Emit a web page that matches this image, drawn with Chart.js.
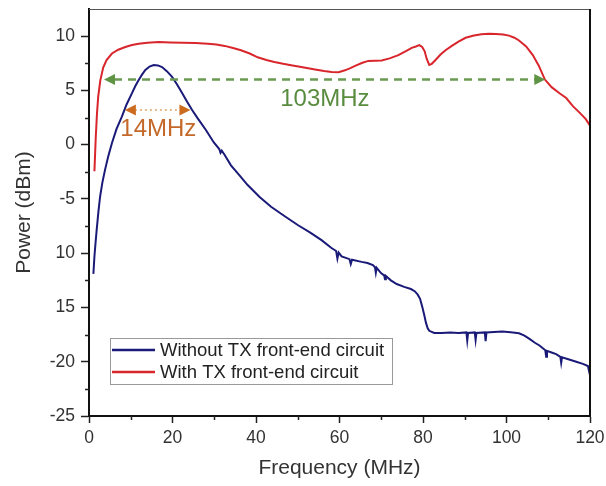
<!DOCTYPE html>
<html>
<head>
<meta charset="utf-8">
<script src="https://cdn.jsdelivr.net/npm/chart.js@4/dist/chart.umd.min.js"></script>
<style>
  html, body { margin: 0; padding: 0; background: #fff; }
</style>
</head>
<body>
<canvas id="powerChart" width="606" height="486"></canvas>
<script>
// With TX front-end circuit (red)
const redFreq = [1.3, 1.6, 1.9, 2.2, 2.7, 3.4, 4.2, 5.5, 7.0, 8.7, 10.3, 11.9, 14.0, 16.7, 19.5, 22.5, 25.5, 28.5, 30.5, 32.5,
  34.5, 36.4, 38.5, 40.4, 42.5, 44.4, 46.5, 48.4, 50.5, 52.5, 54.5, 56.3, 58.1, 59.8, 61.3, 62.6, 64.0, 65.5, 66.9, 68.5,
  70.1, 72.0, 74.1, 75.8, 77.3, 78.3, 79.1, 79.8, 80.4, 80.9, 81.5, 82.1, 83.0, 84.2, 85.4, 86.9, 88.5, 90.2, 92.2, 94.0,
  95.8, 97.5, 99.2, 100.6, 101.9, 103.0, 104.7, 106.3, 107.7, 109.2, 110.8, 112.7, 114.3, 115.9, 117.5, 119.0, 120.0];
const redPower = [-2.45, 0.5, 2.8, 4.4, 5.9, 7.1, 7.8, 8.4, 8.75, 9.0, 9.18, 9.3, 9.4, 9.45, 9.42, 9.38, 9.36, 9.3, 9.22, 9.1,
  8.9, 8.7, 8.4, 8.05, 7.8, 7.62, 7.45, 7.32, 7.18, 7.04, 6.9, 6.78, 6.7, 6.68, 6.85, 7.05, 7.3, 7.55, 7.72, 7.74,
  7.75, 7.95, 8.25, 8.6, 8.92, 9.05, 9.17, 9.0, 8.6, 7.9, 7.35, 7.45, 7.8, 8.3, 8.7, 9.1, 9.5, 9.85, 10.05, 10.18,
  10.22, 10.2, 10.15, 10.05, 9.85, 9.6, 9.05, 8.25, 7.3, 6.0, 5.3, 4.74, 4.3, 3.55, 2.95, 2.35, 1.75];

// Without TX front-end circuit (blue)
const blueFreq = [1.05, 1.3, 1.6, 1.85, 2.25, 2.65, 3.2, 3.85, 4.6, 5.5, 6.6, 7.9, 9.0, 10.3, 11.1, 11.9, 12.7, 13.5, 14.5, 15.5,
  16.5, 17.5, 18.7, 19.9, 21.1, 22.3, 23.5, 24.7, 26.0, 28.0, 29.9, 31.2, 31.5, 31.8, 32.5, 34.0, 36.0, 38.0, 40.8, 43.6,
  46.8, 50.0, 53.0, 55.7, 58.0, 59.2, 59.5, 59.8, 60.5, 62.4, 62.7, 63.0, 65.3, 66.7, 68.0, 68.5, 68.7,
  68.9, 70.0, 70.7, 70.9, 71.1, 72.3, 73.7, 75.5, 77.1, 78.0, 78.7, 79.3, 79.8, 80.3, 80.7, 81.1, 81.5, 82.7, 84.5, 86.5,
  88.5, 90.4, 90.6, 90.8, 92.4, 92.6, 92.8, 94.8, 95.0, 95.2, 97.0, 99.0, 101.0, 103.0, 104.3, 105.5, 106.8, 107.9, 109.3, 109.5,
  109.7, 110.8, 111.9, 112.9, 113.1, 113.3, 115.0, 116.7, 118.3, 119.5, 119.8, 120.0];
const bluePower = [-11.9, -10.3, -8.9, -7.8, -6.2, -4.8, -3.5, -2.3, -1.1, 0.15, 1.45, 2.6, 3.7, 4.75, 5.4, 5.95, 6.45, 6.88, 7.2, 7.34,
  7.3, 7.15, 6.75, 6.25, 5.55, 4.75, 3.95, 3.2, 2.45, 1.35, 0.2, -0.4, -0.75, -0.55, -0.95, -1.9, -2.8, -3.72, -4.8, -5.72,
  -6.57, -7.4, -8.1, -8.8, -9.5, -9.8, -10.5, -9.95, -10.3, -10.55, -11.0, -10.6, -10.8, -10.9, -11.1, -11.3, -11.8,
  -11.35, -11.85, -12.05, -12.4, -12.1, -12.5, -12.84, -13.1, -13.3, -13.5, -13.8, -14.2, -14.9, -15.7, -16.4, -16.9, -17.15, -17.35, -17.35, -17.3,
  -17.35, -17.3, -18.05, -17.35, -17.3, -18.0, -17.35, -17.3, -18.1, -17.3, -17.25, -17.22, -17.28, -17.38, -17.6, -17.9, -18.25, -18.5, -18.95, -19.55,
  -19.0, -19.15, -19.3, -19.55, -20.1, -19.6, -19.8, -20.0, -20.2, -20.4, -20.9, -20.7];

const seriesNames = ['Without TX front-end circuit', 'With TX front-end circuit'];
const seriesColors = ['#1a1a78', '#d8262c'];

const xTicks = [0, 20, 40, 60, 80, 100, 120];
const xMinorTicks = [10, 30, 50, 70, 90, 110];
const yTicks = [-25, -20, -15, -10, -5, 0, 5, 10];
const yTickLabels = ['-25', '-20', '15', '10', '-5', '0', '5', '10'];
const yMinorTicks = [-22.5, -17.5, -12.5, -7.5, -2.5, 2.5, 7.5];

// bandwidth markers: [from, to, level] and label [text, x, y]
const wideBand = [3.6, 109.3, 6.0];
const wideLabel = ['103MHz', 56.5, 4.2];
const narrowBand = [8.6, 24.3, 3.2];
const narrowLabel = ['14MHz', 16.6, 1.45];

const FONT = "'Liberation Sans', Arial, sans-serif";

function toPoints(xs, ys) {
    return xs.map((x, i) => ({ x, y: ys[i] }));
}

function arrowHead(ctx, x, y, dir, color) {
    ctx.fillStyle = color;
    ctx.beginPath();
    ctx.moveTo(x, y);
    ctx.lineTo(x - dir * 11, y - 5.5);
    ctx.lineTo(x - dir * 11, y + 5.5);
    ctx.closePath();
    ctx.fill();
}

const extrasPlugin = {
    id: 'extras',
    afterDraw(chart) {
        const { ctx, chartArea: a, scales: { x, y } } = chart;
        ctx.save();

        // minor ticks
        ctx.strokeStyle = '#222';
        ctx.lineWidth = 1.5;
        yMinorTicks.forEach(v => {
            const py = Math.round(y.getPixelForValue(v)) + 0.5;
            ctx.beginPath(); ctx.moveTo(a.left - 4, py); ctx.lineTo(a.left, py); ctx.stroke();
        });
        xMinorTicks.forEach(v => {
            const px = Math.round(x.getPixelForValue(v)) + 0.5;
            ctx.beginPath(); ctx.moveTo(px, a.bottom); ctx.lineTo(px, a.bottom + 4); ctx.stroke();
        });

        // top and right frame
        ctx.strokeStyle = '#555';
        ctx.lineWidth = 1;
        ctx.beginPath(); ctx.moveTo(a.left, a.top + 0.5); ctx.lineTo(a.right, a.top + 0.5); ctx.stroke();
        ctx.strokeStyle = '#111';
        ctx.lineWidth = 2;
        ctx.beginPath(); ctx.moveTo(a.right, a.top); ctx.lineTo(a.right, a.bottom); ctx.stroke();

        // 103MHz dashed arrow
        let x1 = x.getPixelForValue(wideBand[0]), x2 = x.getPixelForValue(wideBand[1]);
        let py = y.getPixelForValue(wideBand[2]);
        ctx.strokeStyle = '#6b9a52';
        ctx.lineWidth = 2.5;
        ctx.setLineDash([8, 6]);
        ctx.beginPath(); ctx.moveTo(x1 + 10, py); ctx.lineTo(x2 - 10, py); ctx.stroke();
        ctx.setLineDash([]);
        arrowHead(ctx, x1, py, -1, '#5e9444');
        arrowHead(ctx, x2, py, 1, '#5e9444');

        // 14MHz dotted arrow
        x1 = x.getPixelForValue(narrowBand[0]); x2 = x.getPixelForValue(narrowBand[1]);
        py = y.getPixelForValue(narrowBand[2]);
        ctx.strokeStyle = '#e6b98c';
        ctx.lineWidth = 2;
        ctx.setLineDash([2, 3]);
        ctx.beginPath(); ctx.moveTo(x1 + 10, py); ctx.lineTo(x2 - 10, py); ctx.stroke();
        ctx.setLineDash([]);
        arrowHead(ctx, x1, py, -1, '#cc6a1e');
        arrowHead(ctx, x2, py, 1, '#cc6a1e');

        // labels
        ctx.font = '24px ' + FONT;
        ctx.textAlign = 'center';
        ctx.textBaseline = 'middle';
        ctx.fillStyle = '#5a8c40';
        ctx.fillText(wideLabel[0], x.getPixelForValue(wideLabel[1]), y.getPixelForValue(wideLabel[2]));
        ctx.fillStyle = '#c4692a';
        ctx.fillText(narrowLabel[0], x.getPixelForValue(narrowLabel[1]), y.getPixelForValue(narrowLabel[2]));

        // legend box
        const lx = 110, ly = 338, lw = 282, lh = 46;
        ctx.fillStyle = '#fff';
        ctx.fillRect(lx, ly, lw, lh);
        ctx.strokeStyle = '#999';
        ctx.lineWidth = 1;
        ctx.strokeRect(lx + 0.5, ly + 0.5, lw, lh);
        ctx.font = '18.5px ' + FONT;
        ctx.textAlign = 'left';
        chart.data.datasets.forEach((ds, i) => {
            const ry = ly + 12 + i * 22;
            ctx.strokeStyle = ds.borderColor;
            ctx.lineWidth = 2.5;
            ctx.beginPath(); ctx.moveTo(lx + 2, ry); ctx.lineTo(lx + 45, ry); ctx.stroke();
            ctx.fillStyle = '#222';
            ctx.fillText(ds.label, lx + 50, ry + 1);
        });

        ctx.restore();
    }
};

new Chart(document.getElementById('powerChart'), {
    type: 'line',
    data: {
        datasets: [
            { label: seriesNames[0], data: toPoints(blueFreq, bluePower), borderColor: seriesColors[0], borderWidth: 2, pointRadius: 0, tension: 0 },
            { label: seriesNames[1], data: toPoints(redFreq, redPower), borderColor: seriesColors[1], borderWidth: 2, pointRadius: 0, tension: 0 }
        ]
    },
    options: {
        responsive: false,
        animation: false,
        layout: { padding: { top: 9, right: 16, left: 0, bottom: 0 } },
        plugins: { legend: { display: false }, tooltip: { enabled: false } },
        scales: {
            x: {
                type: 'linear', min: 0, max: 120,
                afterBuildTicks: s => { s.ticks = xTicks.map(v => ({ value: v })); },
                afterFit: s => { s.height = 70; s.paddingLeft = 0; s.paddingRight = 0; },
                grid: { drawOnChartArea: false, tickLength: 7, color: '#222', tickWidth: 1.5 },
                border: { color: '#111', width: 2 },
                ticks: { color: '#333', font: { family: FONT, size: 17.5 }, padding: 5, maxRotation: 0 },
                title: { display: true, text: 'Frequency (MHz)', color: '#333', font: { family: FONT, size: 21 }, padding: { bottom: 5 } }
            },
            y: {
                type: 'linear', min: -25, max: 12.5,
                afterBuildTicks: s => { s.ticks = yTicks.map(v => ({ value: v })); },
                afterFit: s => { s.width = 89; s.paddingTop = 0; s.paddingBottom = 0; },
                grid: { drawOnChartArea: false, tickLength: 8, color: '#222', tickWidth: 1.5 },
                border: { color: '#111', width: 2 },
                ticks: { color: '#333', font: { family: FONT, size: 17.5 }, padding: 6,
                    callback: (v) => yTickLabels[yTicks.indexOf(v)] },
                title: { display: true, text: 'Power (dBm)', color: '#333', font: { family: FONT, size: 21 }, padding: { top: 12 } }
            }
        }
    },
    plugins: [extrasPlugin]
});
</script>
</body>
</html>
